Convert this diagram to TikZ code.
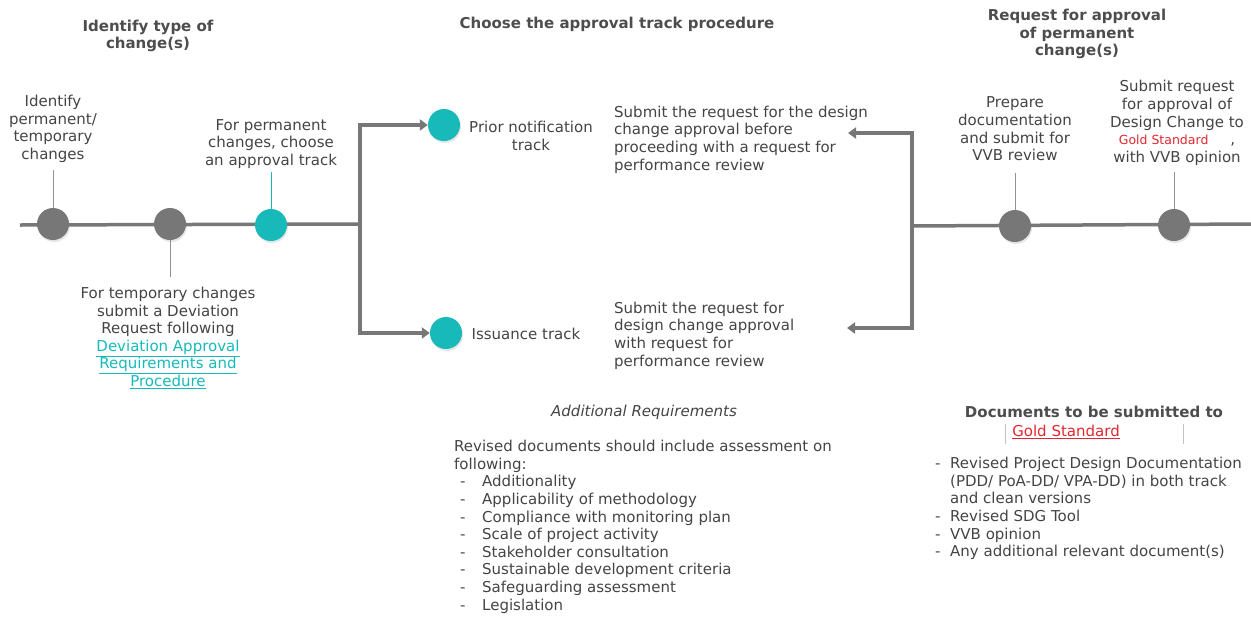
\documentclass[tikz,border=0pt]{standalone}
\usepackage{fontspec}
\setmainfont{DejaVu Sans}
\usetikzlibrary{arrows.meta,shadows}
\definecolor{lgray}{HTML}{777777}
\definecolor{tealc}{HTML}{17B9B9}
\definecolor{txt}{HTML}{444444}
\definecolor{head}{HTML}{4D4D4D}
\definecolor{gsred}{HTML}{E0272F}
\begin{document}
\begin{tikzpicture}[x=1pt,y=-1pt,
  font=\fontsize{15}{17.6}\selectfont, text=txt,
  flow/.style={draw=lgray,line width=3.5pt},
  arr/.style={-{Triangle[length=8pt,width=11pt]}},
  tick/.style={draw=lgray!80,line width=1pt},
  tealtick/.style={draw=tealc,line width=1pt},
  dot/.style={circle,fill=lgray,minimum size=32pt,inner sep=0pt,
    drop shadow={opacity=0.2,shadow xshift=1pt,shadow yshift=-2pt}},
  tdot/.style={dot,fill=tealc},
  lbl/.style={align=center,inner sep=0pt},
  ltxt/.style={align=left,inner sep=0pt},
  hd/.style={align=center,inner sep=0pt,text=head,font=\fontsize{15}{17.6}\selectfont\bfseries},
  thin/.style={draw=lgray!45,line width=0.6pt}
]
\useasboundingbox (0,0) rectangle (1251,619);

% headings
\node[hd] (h1) at (148,36) {Identify type of\\change(s)};
\node[hd] (h2) at (617,24) {Choose the approval track procedure};
\node[hd] (h3) at (1077,34) {Request for approval\\of permanent\\change(s)};

% left timeline
\coordinate (start) at (20,225);
\coordinate (jl) at (360,224);
\draw[flow] (start) -- (jl);
\node[dot] (c1) at (53,224) {};
\node[dot] (c2) at (170,224) {};
\node[tdot] (c3) at (271,225) {};

\node[lbl] (t1) at (53,129) {Identify\\permanent/\\temporary\\changes};
\node[lbl] (t3) at (271,144) {For permanent\\changes, choose\\an approval track};
\node[lbl] (t2) at (168,338) {For temporary changes\\submit a Deviation\\Request following\\
  {\color{tealc}\underline{Deviation Approval}}\\
  {\color{tealc}\underline{Requirements and}}\\
  {\color{tealc}\underline{Procedure}}};

\draw[tick] (c1.north) -- ++(0,-38);
\draw[tick] (c2.south) -- ++(0,37);
\draw[tealtick] (c3.north) -- ++(0,-37);

% tracks
\node[tdot] (c4) at (444,125) {};
\node[tdot] (c5) at (446,333) {};
\draw[flow,arr] (jl) |- (c4);
\draw[flow,arr] (jl) |- (c5);
\node[lbl] (p1) at (531,136) {Prior notification\\track};
\node[lbl] (p2) at (526,334) {Issuance track};

\node[ltxt,anchor=west] (s1) at (614,139.5) {Submit the request for the design\\change approval before\\proceeding with a request for\\performance review};
\node[ltxt,anchor=west] (s2) at (614,335.5) {Submit the request for\\design change approval\\with request for\\performance review};

% right timeline
\coordinate (jr) at (912,226);
\coordinate (rend) at (1251,224);
\coordinate (a1) at (848,133);
\coordinate (a2) at (847,328);
\draw[flow] (jr) -- (rend);
\draw[flow,arr] (jr) |- (a1);
\draw[flow,arr] (jr) |- (a2);
\node[dot] (c6) at (1015,226) {};
\node[dot] (c7) at (1174,225) {};
\node[lbl] (t6) at (1015,129) {Prepare\\documentation\\and submit for\\VVB review};
\node[lbl] (t7) at (1177,123) {Submit request\\for approval of\\Design Change to\\
  {\color{gsred}\fontsize{12.5}{14}\selectfont Gold Standard}\hspace{22pt},\\with VVB opinion};
\draw[tick] (c6.north) -- ++(0,-37);
\draw[tick] (c7.north) -- ++(0,-37);

% additional requirements
\node[lbl,font=\fontsize{15}{17.6}\selectfont\itshape] (ar) at (644,412) {Additional Requirements};
\node[ltxt,anchor=north west] (arl) at (454,440) {Revised documents should include assessment on\\following:\\
  \makebox[28pt][l]{\hspace*{6pt}-}Additionality\\
  \makebox[28pt][l]{\hspace*{6pt}-}Applicability of methodology\\
  \makebox[28pt][l]{\hspace*{6pt}-}Compliance with monitoring plan\\
  \makebox[28pt][l]{\hspace*{6pt}-}Scale of project activity\\
  \makebox[28pt][l]{\hspace*{6pt}-}Stakeholder consultation\\
  \makebox[28pt][l]{\hspace*{6pt}-}Sustainable development criteria\\
  \makebox[28pt][l]{\hspace*{6pt}-}Safeguarding assessment\\
  \makebox[28pt][l]{\hspace*{6pt}-}Legislation};

% documents
\node[hd] (dh) at (1094,412) {Documents to be submitted to};
\node[lbl,text=gsred] (gs) at (1066,432) {\underline{Gold Standard}};
\coordinate (g1a) at (1005,424); \coordinate (g1b) at (1005,444);
\coordinate (g2a) at (1183,424); \coordinate (g2b) at (1183,444);
\draw[thin] (g1a) -- (g1b);
\draw[thin] (g2a) -- (g2b);
\node[ltxt,anchor=north west] (dl) at (933,457) {%
  \makebox[17pt][l]{\hspace*{2pt}-}Revised Project Design Documentation\\
  \hspace*{17pt}(PDD/ PoA-DD/ VPA-DD) in both track\\
  \hspace*{17pt}and clean versions\\
  \makebox[17pt][l]{\hspace*{2pt}-}Revised SDG Tool\\
  \makebox[17pt][l]{\hspace*{2pt}-}VVB opinion\\
  \makebox[17pt][l]{\hspace*{2pt}-}Any additional relevant document(s)};
\end{tikzpicture}
\end{document}
